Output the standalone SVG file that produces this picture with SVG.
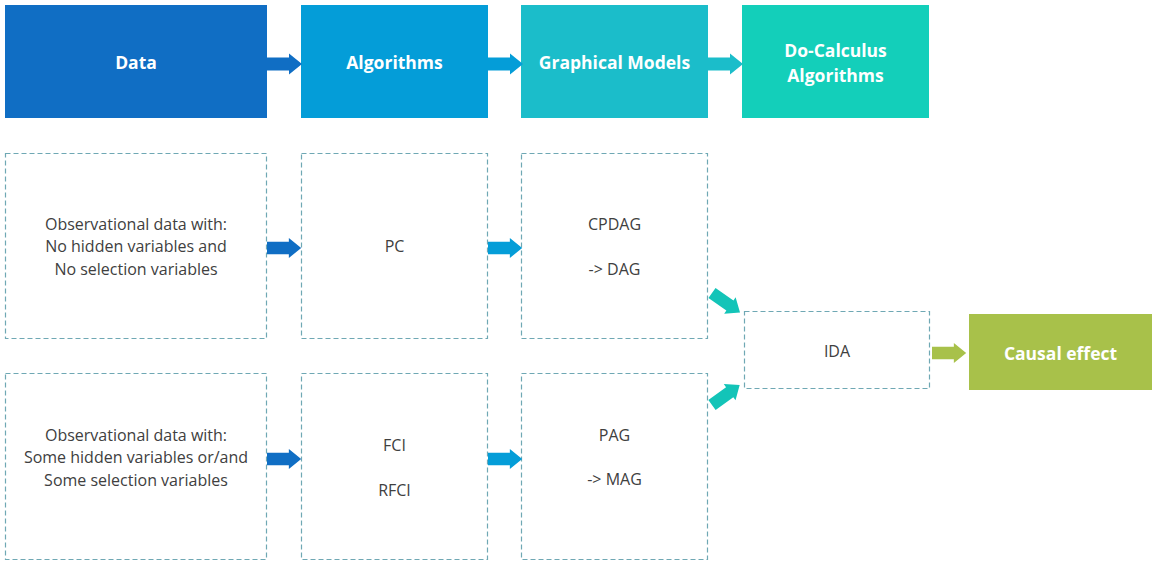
<svg xmlns="http://www.w3.org/2000/svg" xmlns:xlink="http://www.w3.org/1999/xlink" width="1159" height="571" viewBox="0 0 1159 571">
<style>
.hdr{font-family:"Open Sans","Noto Sans","Liberation Sans",sans-serif;font-size:17.5px;font-weight:bold;fill:#ffffff;text-anchor:middle}
.txt{font-family:"Open Sans","Noto Sans","Liberation Sans",sans-serif;font-size:16px;fill:#404040;text-anchor:middle}
.dash{fill:#ffffff;stroke:#6fa8b4;stroke-width:1.2;stroke-dasharray:5,3}
</style>
<defs>
<path id="arr" d="M0,-6.5 H23 V-10.5 L36,0 L23,10.5 V6.5 H0 Z"/>
</defs>
<rect width="1159" height="571" fill="#ffffff"/>
<g id="n-data"><rect x="5" y="5" width="262" height="113" fill="#106ec4"/><text class="hdr" x="136" y="68.5">Data</text></g>
<g id="n-algorithms"><rect x="301" y="5" width="187" height="113" fill="#049dd8"/><text class="hdr" x="394.5" y="68.5">Algorithms</text></g>
<g id="n-graphical"><rect x="521" y="5" width="187" height="113" fill="#1bbdca"/><text class="hdr" x="614.5" y="68.5">Graphical Models</text></g>
<g id="n-docalc"><rect x="742" y="5" width="187" height="113" fill="#13cfba"/><text class="hdr" x="835.5" y="56.5">Do-Calculus</text><text class="hdr" x="835.5" y="81.5">Algorithms</text></g>
<g id="n-obs1"><rect class="dash" x="5.5" y="153.5" width="261" height="185"/><text class="txt" x="136" y="229.5">Observational data with:</text><text class="txt" x="136" y="252">No hidden variables and</text><text class="txt" x="136" y="274.5">No selection variables</text></g>
<g id="n-pc"><rect class="dash" x="301.5" y="153.5" width="186" height="185"/><text class="txt" x="394.5" y="252">PC</text></g>
<g id="n-cpdag"><rect class="dash" x="521.5" y="153.5" width="186" height="185"/><text class="txt" x="614.5" y="229.5">CPDAG</text><text class="txt" x="614.5" y="274.5">-&gt; DAG</text></g>
<g id="n-obs2"><rect class="dash" x="5.5" y="373.5" width="261" height="186"/><text class="txt" x="136" y="440.5">Observational data with:</text><text class="txt" x="136" y="463">Some hidden variables or/and</text><text class="txt" x="136" y="485.5">Some selection variables</text></g>
<g id="n-fci"><rect class="dash" x="301.5" y="373.5" width="186" height="186"/><text class="txt" x="394.5" y="450.5">FCI</text><text class="txt" x="394.5" y="495.5">RFCI</text></g>
<g id="n-pag"><rect class="dash" x="521.5" y="373.5" width="186" height="186"/><text class="txt" x="614.5" y="440.5">PAG</text><text class="txt" x="614.5" y="485">-&gt; MAG</text></g>
<g id="n-ida"><rect class="dash" x="744.5" y="311.5" width="185" height="77"/><text class="txt" x="837" y="356.5">IDA</text></g>
<g id="n-causal"><rect x="969" y="314" width="183" height="76" fill="#a8c14a"/><text class="hdr" x="1060.5" y="359.5">Causal effect</text></g>
<g id="connectors">
<use xlink:href="#arr" href="#arr" transform="translate(266,64)" fill="#106ec4"/>
<use xlink:href="#arr" href="#arr" transform="translate(487,64)" fill="#049dd8"/>
<use xlink:href="#arr" href="#arr" transform="translate(707,64)" fill="#1bbdca"/>
<use xlink:href="#arr" href="#arr" transform="translate(267,248) scale(0.95)" fill="#106ec4"/>
<use xlink:href="#arr" href="#arr" transform="translate(488,248) scale(0.95)" fill="#049dd8"/>
<use xlink:href="#arr" href="#arr" transform="translate(267,459) scale(0.95)" fill="#106ec4"/>
<use xlink:href="#arr" href="#arr" transform="translate(488,459) scale(0.95)" fill="#049dd8"/>
<use xlink:href="#arr" href="#arr" transform="translate(712,293) rotate(35) scale(0.95)" fill="#13c4b8"/>
<use xlink:href="#arr" href="#arr" transform="translate(712,405) rotate(-36) scale(0.95)" fill="#13c4b8"/>
<use xlink:href="#arr" href="#arr" transform="translate(932,353) scale(0.95)" fill="#a8c14a"/>
</g>
</svg>
